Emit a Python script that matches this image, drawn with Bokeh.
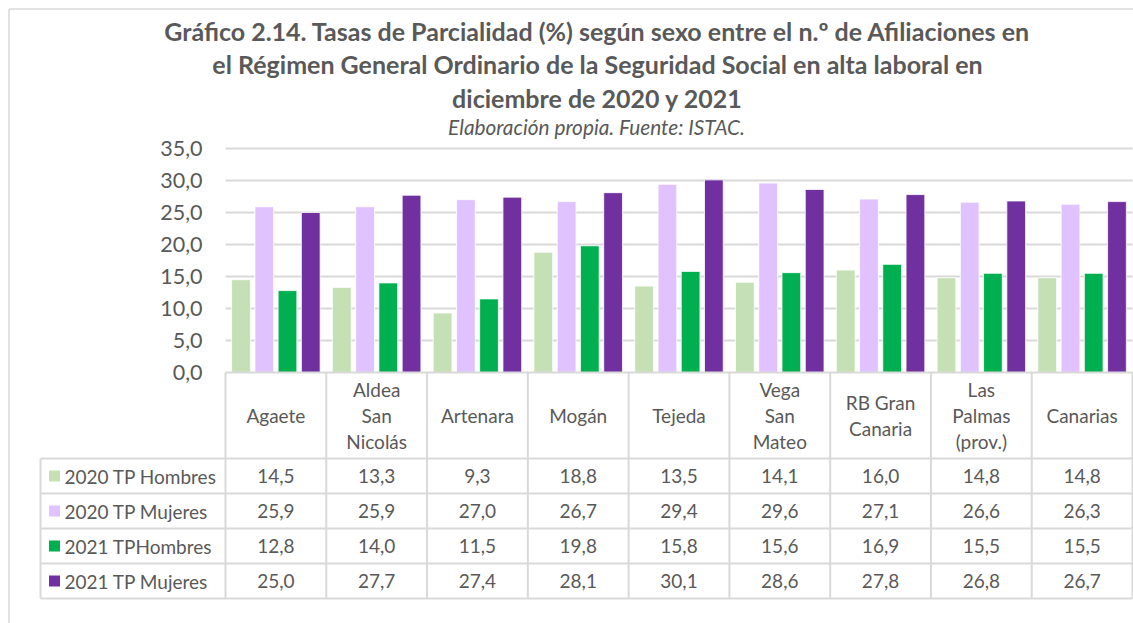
from bokeh.plotting import figure
from bokeh.models import Range1d
from bokeh.core.properties import value
from bokeh.embed import file_html
from bokeh.resources import INLINE

# ---------------- data ----------------
categories = ["Agaete", "Aldea\nSan\nNicolás", "Artenara", "Mogán", "Tejeda",
              "Vega\nSan\nMateo", "RB Gran\nCanaria", "Las\nPalmas\n(prov.)", "Canarias"]
series_names = ["2020 TP Hombres", "2020 TP Mujeres", "2021 TPHombres", "2021 TP Mujeres"]
h2020 = [14.5, 13.3, 9.3, 18.8, 13.5, 14.1, 16.0, 14.8, 14.8]
m2020 = [25.9, 25.9, 27.0, 26.7, 29.4, 29.6, 27.1, 26.6, 26.3]
h2021 = [12.8, 14.0, 11.5, 19.8, 15.8, 15.6, 16.9, 15.5, 15.5]
m2021 = [25.0, 27.7, 27.4, 28.1, 30.1, 28.6, 27.8, 26.8, 26.7]
y_ticks = [0, 5, 10, 15, 20, 25, 30, 35]
title_lines = ["Gráfico 2.14. Tasas de Parcialidad (%) según sexo entre el n.º de Afiliaciones en",
               "el Régimen General Ordinario de la Seguridad Social en alta laboral en",
               "diciembre de 2020 y 2021"]
subtitle = "Elaboración propia. Fuente: ISTAC."

series_values = [h2020, m2020, h2021, m2021]
colors = ["#C5E0B4", "#DFC2FF", "#00B050", "#7030A0"]

# ---------------- layout helpers (page pixel -> data) ----------------
W, H = 1133, 623
ORG_X, ORG_Y = 0, 0
PLOT_L, PLOT_R = 225, 1132
ZERO_Y, PX_PER_UNIT = 372, 6.4
CW = (PLOT_R - PLOT_L) / len(categories)


def X(px):
    return (px - PLOT_L) / CW


def Y(py):
    return (ZERO_Y - py) / PX_PER_UNIT


FONT = "Lato"
TXT = "#595959"
GRID = "#D9D9D9"

p = figure(width=W, height=H, output_backend="svg", toolbar_location=None,
           x_range=Range1d(X(ORG_X), X(ORG_X + W)),
           y_range=Range1d(Y(ORG_Y + H), Y(ORG_Y)),
           x_axis_location=None, y_axis_location=None, min_border=0)
p.grid.visible = False
p.outline_line_color = None
p.background_fill_color = "white"
p.border_fill_color = "white"

# outer border (left and top edges visible)
p.segment(x0=[X(8.5), X(8.5)], y0=[Y(8.5), Y(8.5)], x1=[X(8.5), X(1140)], y1=[Y(640), Y(8.5)],
          line_color=GRID, line_width=1.5)

# title
ty = [30, 63, 97]
for line, yy in zip(title_lines, ty):
    p.text(x=[X(597)], y=[Y(yy)], text=[line], text_align="center", text_baseline="middle",
           text_font=value(FONT), text_font_style="bold", text_font_size="25px", text_color=TXT)
p.text(x=[X(596)], y=[Y(126)], text=[subtitle], text_align="center", text_baseline="middle",
       text_font=value(FONT), text_font_style="italic", text_font_size="20.8px", text_color=TXT)

# gridlines
gy = [t for t in y_ticks if t > 0]
p.segment(x0=[0] * len(gy), y0=gy, x1=[len(categories)] * len(gy), y1=gy,
          line_color=GRID, line_width=2)

# y tick labels
p.text(x=[X(202)] * len(y_ticks), y=y_ticks,
       text=[f"{t:.1f}".replace(".", ",") for t in y_ticks],
       text_align="right", text_baseline="middle", text_font=value(FONT),
       text_font_size="21.5px", text_color=TXT)

# bars
offsets = [-0.346, -0.115, 0.115, 0.346]
bw = 0.186
for vals, col, off in zip(series_values, colors, offsets):
    xs = [i + 0.5 + off for i in range(len(categories))]
    p.vbar(x=xs, top=vals, bottom=0, width=bw, fill_color=col, line_color="white", line_width=0.8)

# ---------------- data table ----------------
row_edges = [458, 493, 528, 563, 598]
n = len(categories)
# horizontal lines
p.segment(x0=[0], y0=[0], x1=[n], y1=[0], line_color=GRID, line_width=2)
p.segment(x0=[X(40)] * len(row_edges), y0=[Y(r) for r in row_edges],
          x1=[n] * len(row_edges), y1=[Y(r) for r in row_edges], line_color=GRID, line_width=2)
# vertical lines
p.segment(x0=list(range(n + 1)), y0=[0] * (n + 1), x1=list(range(n + 1)),
          y1=[Y(row_edges[-1])] * (n + 1), line_color=GRID, line_width=2)
p.segment(x0=[X(40)], y0=[Y(row_edges[0])], x1=[X(40)], y1=[Y(row_edges[-1])],
          line_color=GRID, line_width=2)

# header texts
LINE_PX = 26
hx, hy, ht = [], [], []
for i, cat in enumerate(categories):
    parts = cat.split("\n")
    k = len(parts)
    for j, part in enumerate(parts):
        hx.append(i + 0.5)
        hy.append(Y(415 + (j - (k - 1) / 2) * LINE_PX))
        ht.append(part)
p.text(x=hx, y=hy, text=ht, text_align="center", text_baseline="middle",
       text_font=value(FONT), text_font_size="19px", text_color=TXT)

# rows
for r, (name, vals, col) in enumerate(zip(series_names, series_values, colors)):
    cy = Y((row_edges[r] + row_edges[r + 1]) / 2)
    p.scatter(x=[X(54)], y=[cy], marker="square", size=11, fill_color=col, line_color=None)
    p.text(x=[X(64)], y=[cy], text=[name], text_align="left", text_baseline="middle",
           text_font=value(FONT), text_font_size="19px", text_color=TXT)
    p.text(x=[i + 0.5 for i in range(n)], y=[cy] * n,
           text=[f"{v:.1f}".replace(".", ",") for v in vals],
           text_align="center", text_baseline="middle",
           text_font=value(FONT), text_font_size="19px", text_color=TXT)

open("out.html", "w").write(file_html(p, INLINE))
